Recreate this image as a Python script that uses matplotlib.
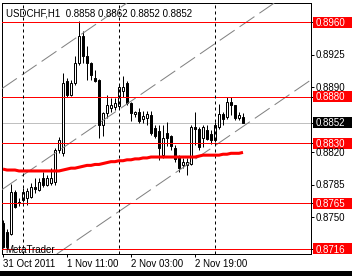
import matplotlib
matplotlib.use("Agg")
import matplotlib.pyplot as plt
import matplotlib.transforms as mtransforms
from matplotlib.patches import Rectangle
import numpy as np

plt.rcParams['font.family'] = ['Liberation Sans', 'DejaVu Sans']

# ---------------- data ----------------
symbol_title = "USDCHF,H1"

opens = [0.8744, 0.8734, 0.8732, 0.8777, 0.8767, 0.8769, 0.8771, 0.8772, 0.8783, 0.8780,
         0.8792, 0.8785, 0.8787, 0.8788, 0.8823, 0.8819, 0.8897, 0.8882, 0.8895, 0.8916,
         0.8945, 0.8924, 0.8916, 0.8900, 0.8898, 0.8850, 0.8862, 0.8868, 0.8869, 0.8870,
         0.8886, 0.8895, 0.8873, 0.8861, 0.8864, 0.8856, 0.8857, 0.8860, 0.8846, 0.8843,
         0.8817, 0.8841, 0.8838, 0.8825, 0.8816, 0.8806, 0.8806, 0.8808, 0.8847, 0.8845,
         0.8836, 0.8844, 0.8840, 0.8833, 0.8847, 0.8861, 0.8858, 0.8874, 0.8871, 0.8857,
         0.8858]
highs = [0.8747, 0.8737, 0.8786, 0.8780, 0.8771, 0.8782, 0.8782, 0.8787, 0.8792, 0.8792,
         0.8799, 0.8796, 0.8803, 0.8825, 0.8837, 0.8905, 0.8900, 0.8898, 0.8924, 0.8961,
         0.8951, 0.8935, 0.8917, 0.8909, 0.8899, 0.8863, 0.8882, 0.8879, 0.8879, 0.8893,
         0.8902, 0.8897, 0.8874, 0.8865, 0.8868, 0.8865, 0.8865, 0.8865, 0.8850, 0.8850,
         0.8850, 0.8853, 0.8839, 0.8828, 0.8817, 0.8814, 0.8814, 0.8850, 0.8863, 0.8847,
         0.8850, 0.8850, 0.8844, 0.8853, 0.8872, 0.8863, 0.8880, 0.8880, 0.8871, 0.8863,
         0.8862]
lows = [0.8717, 0.8716, 0.8731, 0.8760, 0.8762, 0.8767, 0.8763, 0.8771, 0.8776, 0.8778,
        0.8783, 0.8784, 0.8785, 0.8785, 0.8819, 0.8816, 0.8880, 0.8881, 0.8893, 0.8914,
        0.8916, 0.8898, 0.8898, 0.8896, 0.8836, 0.8838, 0.8857, 0.8864, 0.8866, 0.8868,
        0.8880, 0.8871, 0.8854, 0.8858, 0.8852, 0.8852, 0.8850, 0.8839, 0.8836, 0.8812,
        0.8814, 0.8827, 0.8823, 0.8810, 0.8799, 0.8803, 0.8796, 0.8806, 0.8828, 0.8823,
        0.8826, 0.8833, 0.8829, 0.8831, 0.8845, 0.8850, 0.8856, 0.8860, 0.8855, 0.8855,
        0.8852]
closes = [0.8718, 0.8718, 0.8777, 0.8761, 0.8765, 0.8777, 0.8778, 0.8783, 0.8781, 0.8788,
          0.8785, 0.8792, 0.8792, 0.8823, 0.8833, 0.8895, 0.8882, 0.8895, 0.8916, 0.8945,
          0.8924, 0.8916, 0.8903, 0.8897, 0.8849, 0.8862, 0.8871, 0.8871, 0.8873, 0.8890,
          0.8890, 0.8873, 0.8862, 0.8864, 0.8854, 0.8859, 0.8861, 0.8841, 0.8838, 0.8825,
          0.8836, 0.8836, 0.8827, 0.8813, 0.8803, 0.8810, 0.8810, 0.8847, 0.8845, 0.8826,
          0.8847, 0.8834, 0.8833, 0.8850, 0.8861, 0.8856, 0.8874, 0.8871, 0.8857, 0.8860,
          0.8852]
ma_values = [0.8802, 0.8801, 0.8801, 0.8801, 0.8800, 0.8800, 0.8800, 0.8800, 0.8800, 0.8800,
             0.8800, 0.8800, 0.8800, 0.8800, 0.8800, 0.8801, 0.8802, 0.8803, 0.8803, 0.8804,
             0.8805, 0.8806, 0.8806, 0.8807, 0.8807, 0.8808, 0.8809, 0.8810, 0.8810, 0.8811,
             0.8811, 0.8812, 0.8812, 0.8813, 0.8813, 0.8814, 0.8814, 0.8815, 0.8815, 0.8815,
             0.8815, 0.8815, 0.8815, 0.8815, 0.8815, 0.8815, 0.8815, 0.8815, 0.8815, 0.8816,
             0.8817, 0.8817, 0.8817, 0.8817, 0.8817, 0.8818, 0.8818, 0.8819, 0.8819, 0.8819,
             0.8820]

hline_levels = [0.8960, 0.8880, 0.8830, 0.8765, 0.8716]
bid_level = 0.8852
price_ticks = [0.8925, 0.8890, 0.8820, 0.8785, 0.8750]
separator_idx = [5, 29, 53]
time_tick_idx = [0, 16, 32, 48]
time_tick_labels = ["31 Oct 2011", "1 Nov 11:00", "2 Nov 03:00", "2 Nov 19:00"]
channel_start_prices = [0.88894, 0.87807, 0.86709]   # value at bar 0
channel_slope = 0.000295                              # price per bar

# ---------------- figure ----------------
W, H, DPI = 352, 276, 100
fig = plt.figure(figsize=(W / DPI, H / DPI), dpi=DPI, facecolor='white')
L_px, R_px, T_px, B_px = 2, 311, 3, 254
ax = fig.add_axes([L_px / W, 1 - B_px / H, (R_px - L_px) / W, (B_px - T_px) / H])
ax.set_facecolor('white')
ax.set_xlim(-0.25, 77)
ax.set_ylim(0.87106, 0.89808)

lw1 = 0.72  # 1 pixel

# candles
x = np.arange(len(opens))
for i in range(len(opens)):
    o, h, l, c = opens[i], highs[i], lows[i], closes[i]
    ax.vlines(i, l, h, color='black', lw=lw1, zorder=2)
    bottom = min(o, c)
    height = max(abs(c - o), 0.00002)
    fc = 'white' if c >= o else 'black'
    ax.add_patch(Rectangle((i - 0.25, bottom), 0.5, height, facecolor=fc,
                           edgecolor='black', lw=lw1, zorder=3))

# bid line
ax.axhline(bid_level, color='#C0C0C0', lw=lw1, zorder=1)

# channel lines
for p0 in channel_start_prices:
    ax.axline((0, p0), slope=channel_slope, color='#808080', lw=lw1,
              dashes=(18, 6), zorder=4)

# horizontal levels
for lv in hline_levels:
    ax.axhline(lv, color='#FF0000', lw=lw1, zorder=4)

# moving average
ax.plot(x, ma_values, color='#FF0000', lw=2.2, zorder=5, solid_capstyle='butt')

# period separators
for s in separator_idx:
    ax.axvline(s, color='black', lw=lw1, dashes=(3, 3), zorder=4)

# frame
for sp in ax.spines.values():
    sp.set_color('black')
    sp.set_linewidth(lw1)

# ticks
all_levels = sorted(price_ticks + hline_levels + [bid_level])
ax.yaxis.tick_right()
ax.set_yticks(all_levels)
ax.tick_params(axis='y', direction='out', length=2.2, width=lw1, labelright=False, labelleft=False)
ax.set_xticks(time_tick_idx)
ax.tick_params(axis='x', direction='out', length=2.2, width=lw1, labelbottom=False)

fs = 7
ytrans = mtransforms.blended_transform_factory(fig.transFigure, ax.transData)
text_off = mtransforms.ScaledTranslation(0, -3.6 / DPI, fig.dpi_scale_trans)
box_h = 11 * (0.89808 - 0.87106) / (B_px - T_px)

def price_label(level, txt_color, box_color=None):
    if box_color is not None:
        fig.add_artist(Rectangle((312.5 / W, level - box_h / 2), 1 - 312.5 / W, box_h,
                                 transform=ytrans, facecolor=box_color, edgecolor='none',
                                 clip_on=False, zorder=10))
    fig.text(316 / W, level, f"{level:.4f}", transform=ytrans + text_off,
             color=txt_color, fontsize=fs, va='baseline', ha='left', zorder=11)

for p in price_ticks:
    price_label(p, 'black')
for lv in hline_levels:
    price_label(lv, 'white', '#FF0000')
price_label(bid_level, 'white', 'black')

# time labels
xtrans = mtransforms.blended_transform_factory(ax.transData, fig.transFigure)
for idx, lab in zip(time_tick_idx, time_tick_labels):
    fig.text(idx + 0.05, 1 - 267 / H, lab, transform=xtrans, fontsize=fs,
             va='baseline', ha='left', color='black')

# header & watermark
header = f"{symbol_title}  {opens[-1]:.4f} {highs[-1]:.4f} {lows[-1]:.4f} {closes[-1]:.4f}"
fig.text(6 / W, 1 - 16 / H, header, fontsize=fs, va='baseline', ha='left', color='black', zorder=12)
fig.text(5 / W, 1 - 253 / H, "MetaTrader", fontsize=fs, va='baseline', ha='left', color='black', zorder=12)

# bottom black band
fig.add_artist(Rectangle((0, 0), 1, 5 / H, transform=fig.transFigure,
                         facecolor='black', edgecolor='none', zorder=20))

fig.savefig('out.png', dpi=DPI, facecolor='white')
